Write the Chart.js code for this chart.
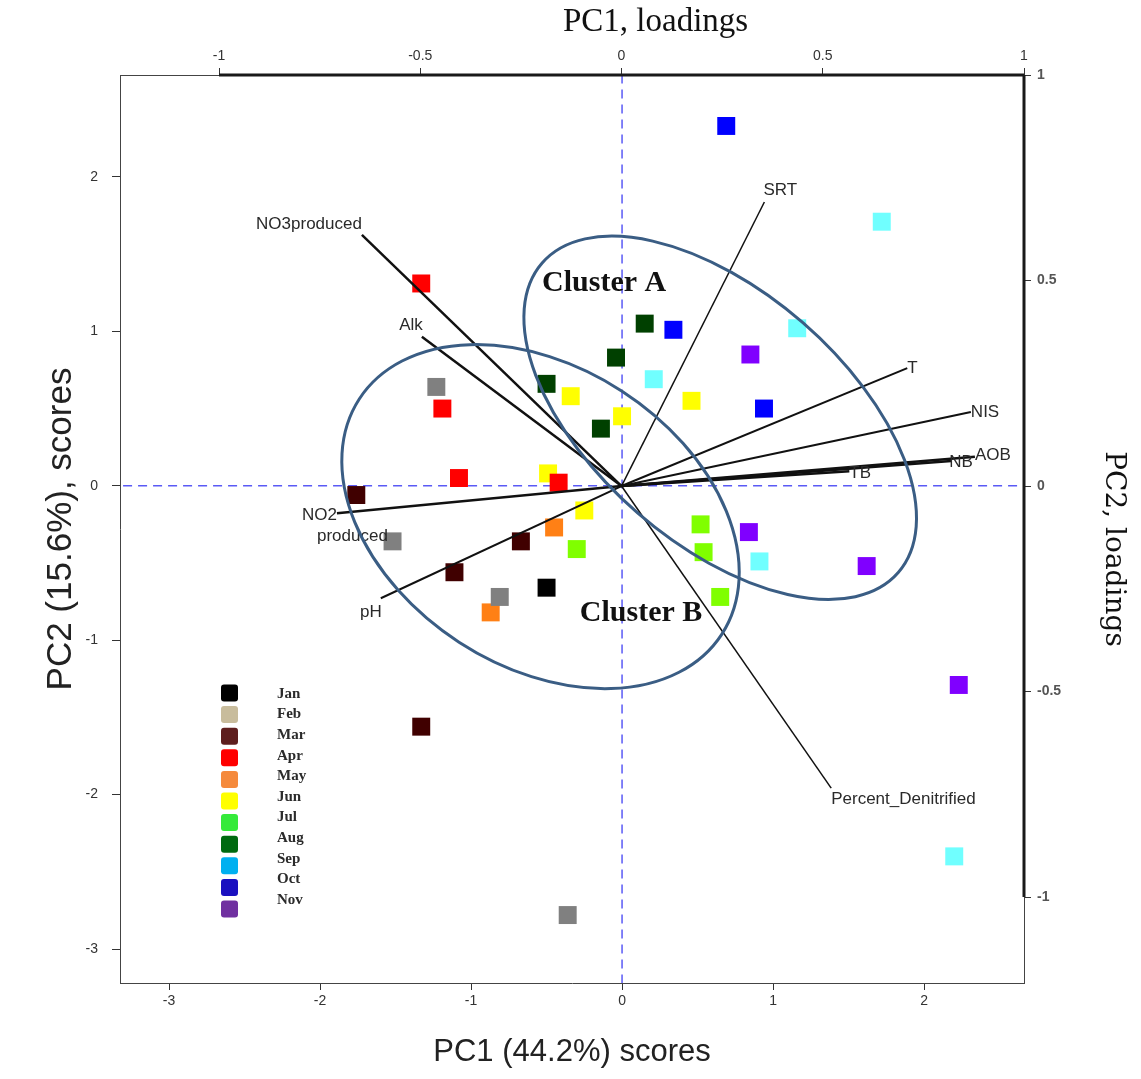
<!DOCTYPE html>
<html>
<head>
<meta charset="utf-8">
<script src="https://cdn.jsdelivr.net/npm/chart.js@4.4.1/dist/chart.umd.min.js"></script>
<style>
  html, body { margin: 0; padding: 0; background: #fff; }
</style>
</head>
<body>
<canvas id="biplot" width="1141" height="1079"></canvas>
<script>
// sample scores (PC1, PC2) per month
const jan = [[-0.50, -0.66]]
const feb = [[-1.23, 0.64], [-1.52, -0.36], [-0.81, -0.72], [-0.36, -2.78]]
const mar = [[-1.76, -0.06], [-0.67, -0.36], [-1.11, -0.56], [-1.33, -1.56]]
const apr = [[-1.33, 1.31], [-1.19, 0.50], [-1.08, 0.05], [-0.42, 0.02]]
const may = [[-0.45, -0.27], [-0.87, -0.82]]
const jun = [[-0.34, 0.58], [0.46, 0.55], [0.00, 0.45], [-0.49, 0.08], [-0.25, -0.16]]
const jul = [[0.52, -0.25], [0.54, -0.43], [-0.30, -0.41], [0.65, -0.72]]
const aug = [[0.15, 1.05], [-0.04, 0.83], [-0.50, 0.66], [-0.14, 0.37]]
const sep = [[1.72, 1.71], [1.16, 1.02], [0.21, 0.69], [0.91, -0.49], [2.20, -2.40]]
const oct = [[0.69, 2.33], [0.34, 1.01], [0.94, 0.50]]
const nov = [[0.85, 0.85], [0.84, -0.30], [1.62, -0.52], [2.23, -1.29]]

const months = ['Jan', 'Feb', 'Mar', 'Apr', 'May', 'Jun', 'Jul', 'Aug', 'Sep', 'Oct', 'Nov']
const monthScores = [jan, feb, mar, apr, may, jun, jul, aug, sep, oct, nov]

// variable loadings (PC1, PC2)
const variables = ['NO3produced', 'Alk', 'SRT', 'T', 'NIS', 'AOB', 'NB', 'TB', 'NO2produced', 'pH', 'Percent_Denitrified']
const loadPC1 = [-0.645, -0.496, 0.355, 0.710, 0.868, 0.878, 0.819, 0.566, -0.707, -0.598, 0.521]
const loadPC2 = [0.611, 0.363, 0.691, 0.287, 0.180, 0.071, 0.061, 0.036, -0.066, -0.273, -0.735]

// axis ticks
const scoreTicks = [-3, -2, -1, 0, 1, 2]
const loadTicks = [-1, -0.5, 0, 0.5, 1]

// colours
const pointColors = ['#000000', '#808080', '#400000', '#ff0000', '#ff8015', '#ffff00', '#80ff00', '#004000', '#70ffff', '#0000ff', '#8000ff']
const legendColors = ['#000000', '#c8bc9c', '#5e1e1e', '#ff0000', '#f58a3c', '#ffff00', '#35ea3a', '#006a10', '#00b0f0', '#1a10c0', '#7030a0']
const vectorWidths = [2.5, 2.5, 1.5, 2, 2, 2.5, 2.5, 2.5, 2.5, 2, 1.5]

// label placement for each loading arrow: [align, dx, dy]
const vectorLabelPos = [
    ['right', 0, -11], ['right', 1, -12], ['left', -1, -12], ['left', 0, 0],
    ['left', 0, 0], ['left', 0, -2], ['left', -2, 1], ['left', 0, 2],
    ['right', 0, 2], ['right', 1, 14], ['left', 0, 11]
]

// hand drawn cluster ellipses (score units) and their titles
const clusters = [
    { name: 'Cluster A', cx: 0.65, cy: 0.44, ra: 1.545, rb: 0.825, angle: 41, tx: -0.53, ty: 1.26 },
    { name: 'Cluster B', cx: -0.54, cy: -0.20, ra: 1.415, rb: 0.98, angle: 33, tx: -0.28, ty: -0.875 }
]

const sans = "'Liberation Sans', Arial, sans-serif"
const serif = "'Liberation Serif', 'Times New Roman', serif"

const datasets = []

// dashed zero lines
datasets.push({
    data: [{ x: 0, y: -4 }, { x: 0, y: 3 }],
    showLine: true, borderColor: '#5a5af5', borderWidth: 1.5, borderDash: [9, 6],
    pointRadius: 0, order: 5
})
datasets.push({
    data: [{ x: -4, y: 0 }, { x: 3, y: 0 }],
    showLine: true, borderColor: '#5a5af5', borderWidth: 1.5, borderDash: [9, 6],
    pointRadius: 0, order: 5
})

// month scores
monthScores.forEach((pts, i) => {
    datasets.push({
        label: months[i],
        data: pts.map(p => ({ x: p[0], y: p[1] })),
        pointStyle: 'rect',
        pointRadius: 12.7,
        pointHoverRadius: 12.7,
        backgroundColor: pointColors[i],
        borderWidth: 0,
        order: 3
    })
})

// loading vectors
variables.forEach((v, i) => {
    datasets.push({
        label: v,
        data: [{ x: 0, y: 0 }, { x: loadPC1[i], y: loadPC2[i] }],
        xAxisID: 'x2',
        yAxisID: 'y2',
        showLine: true,
        borderColor: '#111',
        borderWidth: vectorWidths[i],
        pointRadius: 0,
        order: 1
    })
})

const overlay = {
    id: 'overlay',
    afterDatasetsDraw(chart) {
        const ctx = chart.ctx
        const { x, y, x2, y2 } = chart.scales
        const area = chart.chartArea
        ctx.save()

        // thick loading axis lines
        ctx.strokeStyle = '#1a1a1a'
        ctx.lineWidth = 3
        ctx.beginPath()
        ctx.moveTo(x2.getPixelForValue(-1), area.top)
        ctx.lineTo(x2.getPixelForValue(1), area.top)
        ctx.moveTo(area.right, y2.getPixelForValue(1))
        ctx.lineTo(area.right, y2.getPixelForValue(-1))
        ctx.stroke()

        // loading labels
        ctx.fillStyle = '#2a2a2a'
        ctx.font = '17px ' + sans
        ctx.textBaseline = 'middle'
        variables.forEach((v, i) => {
            const px = x2.getPixelForValue(loadPC1[i])
            const py = y2.getPixelForValue(loadPC2[i])
            const [align, dx, dy] = vectorLabelPos[i]
            ctx.textAlign = align
            if (v === 'NO2produced') {
                ctx.fillText('NO2', px + dx, py + dy)
                ctx.textAlign = 'left'
                ctx.fillText('produced', px - 20, py + dy + 21)
            } else {
                ctx.fillText(v, px + dx, py + dy)
            }
        })

        // cluster ellipses
        ctx.beginPath()
        ctx.rect(area.left, area.top, area.right - area.left, area.bottom - area.top)
        ctx.clip()
        const unit = (Math.abs(x.getPixelForValue(1) - x.getPixelForValue(0)) +
            Math.abs(y.getPixelForValue(1) - y.getPixelForValue(0))) / 2
        ctx.strokeStyle = '#3a5d84'
        ctx.lineWidth = 3
        clusters.forEach(c => {
            ctx.beginPath()
            ctx.ellipse(x.getPixelForValue(c.cx), y.getPixelForValue(c.cy),
                c.ra * unit, c.rb * unit, c.angle * Math.PI / 180, 0, Math.PI * 2)
            ctx.stroke()
        })
        ctx.fillStyle = '#111'
        ctx.font = 'bold 30px ' + serif
        ctx.textAlign = 'left'
        ctx.textBaseline = 'alphabetic'
        clusters.forEach(c => {
            ctx.fillText(c.name, x.getPixelForValue(c.tx), y.getPixelForValue(c.ty))
        })
        ctx.restore()
    },
    afterDraw(chart) {
        const ctx = chart.ctx
        ctx.save()
        // legend
        ctx.font = 'bold 15px ' + serif
        ctx.textAlign = 'left'
        ctx.textBaseline = 'middle'
        months.forEach((m, i) => {
            const sy = 693 + i * 21.6
            ctx.fillStyle = legendColors[i]
            ctx.beginPath()
            ctx.roundRect(221, sy - 8.5, 17, 17, 3)
            ctx.fill()
            ctx.fillStyle = '#2b2b2b'
            ctx.fillText(m, 277, 694 + i * 20.6)
        })

        // top title
        ctx.fillStyle = '#111'
        ctx.font = '33px ' + serif
        ctx.textBaseline = 'alphabetic'
        ctx.fillText('PC1, loadings', 563, 31)

        // right title
        ctx.translate(1113, 549)
        ctx.rotate(Math.PI / 2)
        ctx.font = "28px 'DejaVu Serif', serif"
        ctx.textAlign = 'center'
        ctx.textBaseline = 'middle'
        ctx.fillText('PC2, loadings', 0, 0)
        ctx.restore()
    }
}

function fixedTicks(list) {
    return scale => { scale.ticks = list.map(v => ({ value: v })) }
}

const tickFont = { family: sans, size: 14 }

new Chart(document.getElementById('biplot'), {
    type: 'scatter',
    data: { datasets },
    options: {
        responsive: false,
        animation: false,
        layout: { padding: 0, autoPadding: false },
        plugins: {
            legend: { display: false },
            tooltip: { enabled: false }
        },
        scales: {
            x: {
                position: 'bottom',
                min: -3.325, max: 2.662,
                afterBuildTicks: fixedTicks(scoreTicks),
                afterFit: s => { s.height = 96 },
                grid: { drawOnChartArea: false, tickLength: 7, tickColor: '#333' },
                border: { color: '#444', width: 1 },
                ticks: { font: tickFont, color: '#333', padding: 3, maxRotation: 0, callback: v => String(v) },
                title: { display: true, text: 'PC1 (44.2%) scores', color: '#222',
                    font: { family: sans, size: 31, lineHeight: 1 }, padding: { top: 0, bottom: 11 } }
            },
            y: {
                position: 'left',
                min: -3.22, max: 2.66,
                afterBuildTicks: fixedTicks(scoreTicks),
                afterFit: s => { s.width = 120 },
                grid: { drawOnChartArea: false, tickLength: 8, tickColor: '#333' },
                border: { color: '#444', width: 1 },
                ticks: { font: tickFont, color: '#333', padding: 14, callback: v => String(v) },
                title: { display: true, text: 'PC2 (15.6%), scores', color: '#222',
                    font: { family: sans, size: 35, lineHeight: 1 }, padding: { top: 44, bottom: 0 } }
            },
            x2: {
                position: 'top',
                min: -1.246, max: 1.0,
                afterBuildTicks: fixedTicks(loadTicks),
                afterFit: s => { s.height = 75 },
                grid: { drawOnChartArea: false, tickLength: 7, tickColor: '#333' },
                border: { color: '#444', width: 1 },
                ticks: { font: tickFont, color: '#333', padding: 3, maxRotation: 0, callback: v => String(v) }
            },
            y2: {
                position: 'right',
                min: -1.209, max: 1.0,
                afterBuildTicks: fixedTicks(loadTicks),
                afterFit: s => { s.width = 117 },
                grid: { drawOnChartArea: false, tickLength: 7, tickColor: '#333' },
                border: { color: '#444', width: 1 },
                ticks: { font: { family: sans, size: 14, weight: 'bold' }, color: '#555', padding: 6, callback: v => String(v) }
            }
        }
    },
    plugins: [overlay]
})
</script>
</body>
</html>
